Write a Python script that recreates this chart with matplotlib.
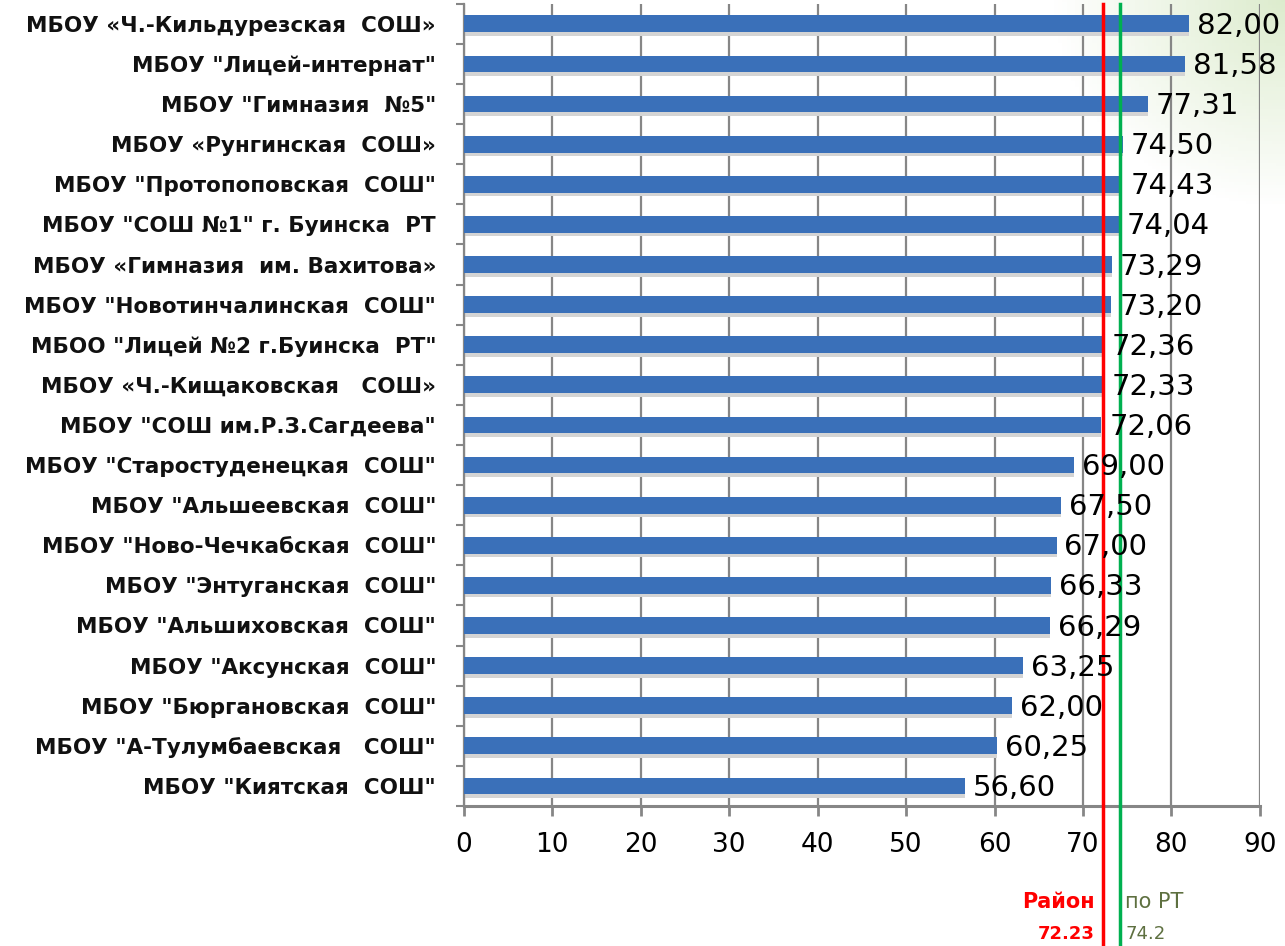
import matplotlib
matplotlib.use("Agg")
import matplotlib.pyplot as plt
import numpy as np

schools = [
    'МБОУ «Ч.-Кильдурезская  СОШ»',
    'МБОУ "Лицей-интернат"',
    'МБОУ "Гимназия  №5"',
    'МБОУ «Рунгинская  СОШ»',
    'МБОУ "Протопоповская  СОШ"',
    'МБОУ "СОШ №1" г. Буинска  РТ',
    'МБОУ «Гимназия  им. Вахитова»',
    'МБОУ "Новотинчалинская  СОШ"',
    'МБОО "Лицей №2 г.Буинска  РТ"',
    'МБОУ «Ч.-Кищаковская   СОШ»',
    'МБОУ "СОШ им.Р.З.Сагдеева"',
    'МБОУ "Старостуденецкая  СОШ"',
    'МБОУ "Альшеевская  СОШ"',
    'МБОУ "Ново-Чечкабская  СОШ"',
    'МБОУ "Энтуганская  СОШ"',
    'МБОУ "Альшиховская  СОШ"',
    'МБОУ "Аксунская  СОШ"',
    'МБОУ "Бюргановская  СОШ"',
    'МБОУ "А-Тулумбаевская   СОШ"',
    'МБОУ "Киятская  СОШ"',
]
scores = [82.00, 81.58, 77.31, 74.50, 74.43, 74.04, 73.29, 73.20, 72.36, 72.33,
          72.06, 69.00, 67.50, 67.00, 66.33, 66.29, 63.25, 62.00, 60.25, 56.60]
district_avg = 72.23
rt_avg = 74.2
xticks = [0, 10, 20, 30, 40, 50, 60, 70, 80, 90]

fig = plt.figure(figsize=(12.85, 9.46), dpi=100)

# faint green glow in the top-right corner
bg = fig.add_axes([0, 0, 1, 1], zorder=-5)
gx, gy = np.meshgrid(np.linspace(0, 1, 300), np.linspace(0, 1, 300))
dist = np.sqrt(((1 - gx) / 0.18) ** 2 + (gy / 0.22) ** 2)
alpha = np.clip(1 - dist, 0, 1) * 0.3
img = np.zeros((300, 300, 4))
img[..., 0], img[..., 1], img[..., 2] = 0.55, 0.75, 0.35
img[..., 3] = alpha
bg.imshow(img, extent=[0, 1, 0, 1], aspect="auto")
bg.axis("off")

ax = fig.add_axes([0.361, 0.148, 0.6195, 0.848])
ax.set_facecolor("none")
y = np.arange(len(schools))

ax.barh(y + 0.09, scores, height=0.42, color="#d4d4d4", zorder=2)
ax.barh(y, scores, height=0.42, color="#3a70b9", zorder=3)

for yi, v in zip(y, scores):
    ax.text(v + 0.9, yi + 0.05, f"{v:.2f}".replace(".", ","), va="center", ha="left",
            fontsize=21, color="black", zorder=5)

ax.set_xlim(0, 90)
ax.set_ylim(len(schools) - 0.5, -0.5)
ax.set_xticks(xticks)
ax.set_xticklabels([str(t) for t in xticks], fontsize=19)
ax.set_yticks(y)
ax.set_yticklabels(schools, fontsize=15.5, fontweight="bold", color="#111111")
ax.set_yticks(np.arange(len(schools) + 1) - 0.5, minor=True)
ax.tick_params(axis="y", which="major", length=0, pad=20)
ax.tick_params(axis="y", which="minor", length=6, width=1.5, color="#868686")
ax.tick_params(axis="x", length=7, width=2, color="#868686", pad=12)

ax.grid(axis="x", color="#868686", linewidth=1.6, zorder=1)
ax.set_axisbelow(True)
for s in ["top", "right"]:
    ax.spines[s].set_visible(False)
ax.spines["left"].set_color("#868686")
ax.spines["left"].set_linewidth(1.6)
ax.spines["bottom"].set_color("#868686")
ax.spines["bottom"].set_linewidth(2.2)

# average lines running down past the axis
ax.axvline(district_avg, ymin=-0.18, ymax=1.0, color="#ff0000", linewidth=2.5,
           clip_on=False, zorder=4)
ax.axvline(rt_avg, ymin=-0.18, ymax=1.0, color="#00b050", linewidth=2.5,
           clip_on=False, zorder=4)

ax.text(district_avg - 0.9, 21.9, "Район", ha="right", va="center", fontsize=15,
        fontweight="bold", color="#ff0000")
ax.text(district_avg - 0.9, 22.7, f"{district_avg}", ha="right", va="center", fontsize=13,
        fontweight="bold", color="#ff0000")
ax.text(rt_avg + 0.6, 21.9, "по РТ", ha="left", va="center", fontsize=15,
        color="#5e7040")
ax.text(rt_avg + 0.6, 22.7, f"{rt_avg}", ha="left", va="center", fontsize=13,
        color="#5e7040")

fig.savefig("out.png", dpi=100)
